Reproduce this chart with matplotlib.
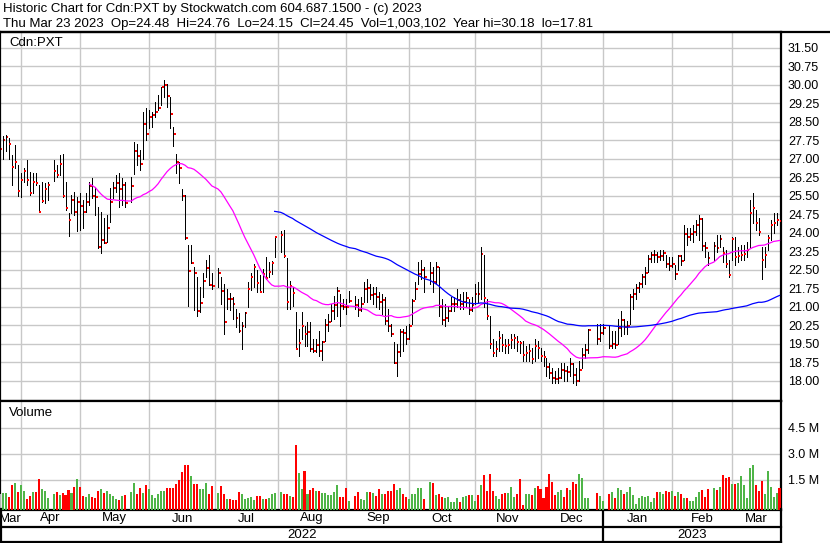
import numpy as np
import pandas as pd
import matplotlib
matplotlib.use('Agg')
import matplotlib.pyplot as plt
from matplotlib.transforms import blended_transform_factory

plt.rcParams['font.family'] = ['Liberation Sans', 'DejaVu Sans']

# Cdn:PXT daily bars, 2022-03-23 .. 2023-03-23 (one value per trading day)
holidays = ['2022-04-15', '2022-05-23', '2022-07-01', '2022-08-01', '2022-09-05',
            '2022-10-10', '2022-12-26', '2022-12-27', '2023-01-02', '2023-02-20']

close = [
    27.40, 27.75, 27.87, 27.59, 26.66, 26.84, 25.68, 26.13, 26.49, 26.13, 25.59, 26.04, 25.99, 24.85, 25.29, 25.77, 25.93,
    26.48, 26.33, 26.76, 25.48, 24.99, 24.51, 25.32, 24.85, 25.22, 25.07, 24.85, 25.22, 25.88, 25.48, 25.43, 23.40, 23.70,
    23.57, 24.17, 25.24, 25.79, 25.99, 25.75, 25.93, 25.18,
    25.88, 27.30, 27.09, 26.77, 28.39, 28.01, 28.68, 28.76, 28.88, 29.04, 29.88, 30.00, 29.53, 28.82, 28.01, 26.84, 26.61,
    25.47, 23.76, 22.43, 22.78, 22.34, 20.81, 21.16, 22.03, 22.58, 21.86, 21.82,
    22.34, 21.62, 20.38, 21.32, 21.30, 21.12, 20.55, 20.00, 20.22, 20.74, 21.73, 22.18, 22.61, 21.97, 21.57, 22.32, 22.16,
    22.41, 22.76, 23.83,
    23.91, 23.06, 21.20, 21.82, 21.55, 19.28, 19.52, 20.22, 19.88, 19.98, 19.28, 19.21, 19.45, 19.20, 19.57, 20.25, 20.38,
    20.83, 21.06, 21.64, 21.03, 21.00, 20.98, 21.24,
    21.06, 20.85, 21.10, 21.70, 21.75, 21.45, 21.50, 21.40, 21.20, 21.25, 20.40, 20.20, 19.90, 18.70, 19.15, 19.95, 19.93,
    19.70, 20.20, 21.22, 21.70, 22.33, 22.47, 22.18,
    22.36, 21.99, 22.60, 21.00, 20.47, 20.53, 20.80, 21.11, 21.12, 21.25, 21.09, 21.18, 21.34, 20.87, 21.05, 21.52, 21.49,
    23.14, 21.34, 20.60, 19.49, 19.11, 19.29, 19.72, 19.43, 19.42, 19.44, 19.63, 19.74, 19.56, 19.52, 19.03, 19.10, 19.20,
    18.87, 19.40, 19.30, 18.99, 18.97, 18.56, 18.32, 18.09, 18.08, 18.10, 18.43, 18.39, 18.36, 18.66, 18.22, 17.98, 18.43,
    19.03, 19.24, 20.05,
    19.68, 19.91, 20.14,
    19.40, 19.47, 19.44, 20.14, 20.45, 20.18, 20.22, 21.40, 21.50, 21.74, 21.91, 22.18, 22.37, 22.91, 23.09, 23.10, 23.01,
    23.05, 23.18, 22.74, 22.66, 22.72, 22.32, 23.04, 22.85, 23.93, 23.82, 23.94, 24.04, 24.31, 24.55, 23.45, 23.39, 22.96,
    23.46, 23.39, 23.73, 23.16, 22.72, 22.28, 23.73, 23.01, 23.05, 23.10, 23.12, 23.28, 24.80, 25.00, 24.39, 24.03, 22.90,
    23.10, 23.77, 24.31, 24.40, 24.49, 24.45,
]

high = [
    27.85, 27.93, 27.95, 27.82, 27.14, 27.55, 26.74, 26.40, 26.60, 26.94, 26.47, 26.40, 26.40, 25.93, 26.06, 26.00, 26.06,
    26.94, 26.74, 27.14, 27.17, 26.06, 24.78, 25.52, 25.66, 25.45, 25.59, 25.32, 25.59, 26.03, 26.20, 25.86, 25.05, 24.85,
    24.58, 24.71, 25.79, 26.06, 26.33, 26.40, 26.20, 26.06,
    26.26, 27.68, 27.60, 27.34, 28.89, 29.03, 28.96, 28.89, 29.30, 29.57, 29.90, 30.18, 30.04, 29.50, 28.28, 27.20, 26.86,
    25.78, 25.51, 23.51, 23.51, 22.60, 22.18, 21.80, 22.34, 22.88, 23.08, 22.34,
    22.58, 22.20, 21.93, 21.73, 21.53, 21.39, 20.92, 20.72, 20.38, 20.78, 22.00, 22.34, 22.74, 22.47, 22.27, 22.52, 22.99,
    22.79, 22.86, 23.87,
    24.07, 24.11, 22.95, 22.05, 21.78, 20.76, 20.09, 20.76, 20.22, 20.36, 20.36, 19.68, 19.68, 20.02, 19.61, 20.49, 20.70,
    21.10, 21.44, 21.78, 21.51, 21.30, 21.30, 21.64,
    21.44, 21.30, 21.40, 22.00, 22.10, 21.90, 21.80, 21.80, 21.60, 21.50, 21.40, 20.90, 20.30, 19.55, 19.50, 20.10, 20.10,
    20.20, 20.30, 21.30, 22.00, 22.80, 22.90, 22.60,
    22.80, 22.60, 22.80, 22.60, 21.30, 21.10, 21.00, 21.40, 21.40, 21.70, 21.50, 21.60, 21.60, 21.30, 21.40, 21.90, 22.00,
    23.40, 23.10, 21.30, 20.60, 19.70, 19.60, 20.00, 19.90, 19.70, 19.70, 19.90, 19.90, 19.80, 19.60, 19.60, 19.40, 19.50,
    19.30, 19.70, 19.60, 19.30, 19.20, 18.90, 18.70, 18.50, 18.40, 18.50, 18.70, 18.70, 18.60, 18.90, 18.70, 18.50, 18.80,
    19.30, 19.50, 20.10,
    20.30, 20.30, 20.30,
    20.20, 20.00, 20.00, 20.50, 20.80, 20.50, 20.40, 21.50, 21.70, 21.90, 22.00, 22.30, 22.60, 23.10, 23.20, 23.30, 23.20,
    23.30, 23.30, 23.10, 23.00, 23.00, 22.70, 23.10, 23.10, 24.30, 24.20, 24.20, 24.30, 24.50, 24.70, 24.60, 23.60, 23.20,
    23.60, 23.90, 23.90, 23.40, 23.30, 22.90, 23.80, 23.80, 23.40, 23.50, 23.50, 23.60, 25.30, 25.60, 24.90, 24.60, 23.40,
    23.40, 23.90, 24.50, 24.80, 24.80, 24.76,
]

low = [
    26.90, 26.98, 27.30, 27.00, 25.93, 26.60, 25.50, 25.45, 26.05, 25.93, 25.52, 25.59, 25.93, 24.85, 25.25, 25.18, 25.32,
    26.07, 26.27, 26.33, 25.45, 24.91, 23.84, 24.78, 24.72, 24.06, 24.10, 24.17, 24.85, 25.11, 25.39, 24.72, 23.36, 23.16,
    23.57, 23.63, 24.44, 25.39, 25.66, 25.05, 25.11, 25.05,
    25.24, 26.39, 26.73, 26.53, 27.00, 27.74, 28.22, 28.28, 28.69, 28.96, 29.16, 29.50, 29.10, 28.22, 27.50, 26.40, 25.99,
    25.31, 23.72, 21.01, 22.78, 20.85, 20.60, 20.78, 21.39, 22.20, 21.86, 21.70,
    21.80, 21.12, 19.90, 20.92, 20.85, 20.51, 20.18, 19.98, 19.26, 20.18, 20.99, 21.66, 21.80, 21.60, 21.57, 21.57, 22.12,
    22.18, 22.32, 22.99,
    23.20, 23.00, 20.90, 20.90, 21.03, 19.28, 19.01, 19.68, 19.41, 19.41, 19.21, 19.14, 19.14, 19.01, 18.84, 19.61, 20.02,
    20.43, 20.49, 20.63, 20.22, 20.90, 20.70, 21.17,
    20.90, 20.60, 20.80, 21.20, 21.20, 21.30, 21.10, 21.00, 20.90, 20.70, 20.30, 20.00, 19.80, 18.70, 18.20, 19.00, 19.20,
    19.50, 19.70, 20.30, 21.30, 21.90, 22.10, 21.60,
    21.90, 21.60, 21.90, 20.60, 20.30, 20.20, 20.40, 20.80, 20.80, 21.00, 20.90, 20.90, 21.00, 20.70, 20.80, 21.10, 21.20,
    21.30, 21.00, 20.50, 19.30, 19.00, 19.00, 19.20, 19.20, 19.10, 19.10, 19.30, 19.30, 19.20, 19.10, 18.80, 18.80, 18.80,
    18.70, 18.80, 18.90, 18.80, 18.60, 18.20, 18.10, 17.90, 17.90, 17.90, 18.10, 18.00, 18.00, 18.20, 17.90, 17.81, 18.00,
    18.50, 18.90, 19.10,
    19.50, 19.60, 19.90,
    19.30, 19.30, 19.30, 19.50, 19.80, 19.90, 19.90, 20.30, 20.90, 21.30, 21.60, 21.80, 21.90, 22.40, 22.80, 22.80, 22.80,
    22.90, 22.90, 22.60, 22.50, 22.60, 22.10, 22.50, 22.70, 22.90, 23.50, 23.70, 23.60, 23.90, 23.70, 23.30, 23.00, 22.70,
    22.90, 23.20, 23.40, 22.80, 22.60, 22.20, 22.90, 22.70, 22.80, 22.90, 22.90, 23.00, 23.40, 24.40, 24.10, 23.90, 22.10,
    22.60, 23.30, 23.70, 24.00, 24.30, 24.15,
]

# volume in millions of shares
volume = [
    0.70, 0.72, 0.72, 0.49, 1.21, 1.33, 0.78, 1.21, 0.86, 0.40, 0.57, 0.80, 0.80, 1.56, 0.96, 0.86, 0.45,
    0.69, 0.80, 0.61, 0.72, 0.61, 0.92, 0.72, 1.09, 1.56, 1.09, 0.55, 0.51, 0.69, 0.51, 0.45, 0.86, 0.96, 0.72, 0.86,
    0.69, 0.57, 0.41, 0.36, 0.57, 0.63,
    0.80, 1.33, 0.65, 1.05, 0.74, 1.21, 0.98, 0.63, 0.47, 0.65, 0.86, 0.86, 1.03, 1.00, 1.03, 1.23, 1.50, 1.92, 2.33,
    2.33, 1.73, 1.27, 1.27, 0.96, 0.98, 1.33, 0.69, 1.11,
    0.74, 1.15, 0.69, 0.41, 0.40, 0.36, 0.36, 0.80, 0.67, 0.40, 0.47, 0.51, 0.36, 0.57, 0.57, 0.38, 0.38, 0.45, 0.69, 0.74,
    0.80, 0.65, 0.69, 0.55, 0.51, 3.50, 1.91, 0.94, 1.98, 0.65, 0.92, 1.03, 0.86, 0.86, 0.74, 0.74, 0.63, 0.63, 0.82,
    1.21, 0.49, 0.51, 1.03, 0.30,
    0.57, 0.80, 0.40, 0.36, 0.80, 0.80, 0.71, 0.57, 0.98, 0.69, 0.69, 0.86, 0.86, 1.27, 0.92, 1.03, 0.67, 0.49, 0.38,
    0.69, 0.67, 1.03, 1.03, 0.40,
    1.38, 1.33, 0.63, 0.69, 0.51, 0.45, 0.51, 0.22, 0.22, 0.45, 0.22, 0.51, 0.57, 0.61, 0.63, 0.30, 0.63, 1.21, 1.79,
    0.86, 1.85, 0.86, 0.57, 0.40, 0.69, 0.74, 0.74, 1.09, 0.49, 0.69, 1.56, 0.05, 0.69, 0.69, 0.63, 1.03, 1.15, 0.98,
    0.45, 1.09, 1.85, 1.38, 0.63, 0.80, 0.92, 0.51, 1.03, 0.92, 1.38, 1.27, 1.85, 1.62, 0.45, 0.45,
    0.74, 0.57, 0.28,
    0.69, 0.80, 0.45, 1.03, 0.92, 0.69, 0.80, 1.09, 0.63, 0.10, 0.45, 0.57, 0.53, 0.57, 0.22, 0.45, 0.80, 0.80, 0.69,
    0.86, 0.80, 0.86, 0.55, 0.80, 0.69, 0.45, 0.45, 0.28, 0.28, 0.51, 0.80, 0.90, 0.49, 0.98,
    1.03, 0.92, 1.09, 1.79, 1.60, 1.67, 1.27, 1.27, 1.33, 1.71, 1.21, 0.45, 2.18, 2.37, 1.21, 0.86, 1.44, 0.69, 2.01,
    1.09, 0.51, 0.74, 1.00,
]

header1 = "Historic Chart for Cdn:PXT by Stockwatch.com 604.687.1500 - (c) 2023"
header2 = ("Thu Mar 23 2023  Op=24.48  Hi=24.76  Lo=24.15  Cl=24.45  Vol=1,003,102  "
           "Year hi=30.18  lo=17.81")
price_ticks = np.arange(18.0, 31.51, 0.75)
vol_ticks = [1.5, 3.0, 4.5]

# x axis = every weekday, holidays stay as empty slots
weekdays = pd.bdate_range('2022-03-23', '2023-03-23')
slot = pd.Series(np.arange(len(weekdays)), index=weekdays)
days = weekdays.difference(pd.DatetimeIndex(holidays))
x = slot[days].values.astype(float)

df = pd.DataFrame({'close': close, 'high': high, 'low': low, 'vol': volume}, index=days)
ma30 = df['close'].rolling(30).mean()
ma90 = df['close'].rolling(90).mean()
chg = df['close'].diff()
vcolors = np.where(chg > 0, '#4fb548', np.where(chg < 0, '#ff0000', '#b4b4b4'))

# month grid lines sit on the last weekday on/before the 1st
month_starts = pd.date_range('2022-04-01', '2023-03-01', freq='MS')
month_x = [slot[weekdays[weekdays <= m][-1]] for m in month_starts]

W, H = 830, 543
def px_rect(x0, y0, x1, y1):
    return [x0 / W, 1 - y1 / H, (x1 - x0) / W, (y1 - y0) / H]

fig = plt.figure(figsize=(W / 100, H / 100), dpi=100)
ax = fig.add_axes(px_rect(0, 32, 781, 401))
axv = fig.add_axes(px_rect(0, 401, 781, 509.5), sharex=ax)

xlim = (0.07, 261.5)
grid_c = '#c8c8c8'

# price panel
ax.set_xlim(*xlim)
ax.set_ylim(17.17, 32.13)
ax.set_xticks(month_x)
ax.set_yticks(price_ticks)
ax.set_yticklabels(['%.2f' % v for v in price_ticks])
ax.yaxis.tick_right()
ax.tick_params(axis='both', length=0, labelsize=9, pad=5)
ax.tick_params(axis='x', labelbottom=False)
ax.grid(True, color=grid_c, lw=1)
ax.set_axisbelow(True)

ax.vlines(x, df['low'], df['high'], color='black', lw=0.72, antialiased=False, zorder=3)
ax.hlines(df['close'], x + 0.25, x + 0.9, color='#ff0000', lw=1.44, antialiased=False, zorder=4)
ax.plot(x, ma30, color='#ff00ff', lw=0.9, zorder=5)
ax.plot(x, ma90, color='#0000ff', lw=0.9, zorder=5)
fig.text(9 / W, 1 - 43 / H, 'Cdn:PXT', fontsize=9.5, va='center', ha='left')

# volume panel
vbottom = -0.215
axv.set_ylim(vbottom, 6.03)
axv.bar(x, df['vol'] - vbottom, bottom=vbottom, width=0.68, color=vcolors, zorder=3)
axv.set_yticks(vol_ticks)
axv.set_yticklabels(['%.1f M' % v for v in vol_ticks])
axv.yaxis.tick_right()
axv.tick_params(axis='both', length=0, labelsize=9, pad=5)
axv.tick_params(axis='x', labelbottom=False)
axv.grid(True, color=grid_c, lw=1)
axv.set_axisbelow(True)
fig.text(9 / W, 1 - 413 / H, 'Volume', fontsize=9.5, va='center', ha='left')

for a in (ax, axv):
    for s in a.spines.values():
        s.set_linewidth(1.6)
        s.set_color('black')

# month and year rows
tr = blended_transform_factory(axv.transData, fig.transFigure)
edges = [xlim[0]] + month_x + [xlim[1]]
names = ['Mar'] + [m.strftime('%b') for m in month_starts]
for i, name in enumerate(names):
    axv.text((edges[i] + edges[i + 1]) / 2, 1 - 518.5 / H, name, transform=tr,
             ha='center', va='center', fontsize=9.5, clip_on=False)
jan_x = month_x[month_starts.get_loc(pd.Timestamp('2023-01-01'))]
axv.text((xlim[0] + jan_x) / 2, 1 - 534.5 / H, '2022', transform=tr, ha='center', va='center', fontsize=9.5)
axv.text((jan_x + xlim[1]) / 2, 1 - 534.5 / H, '2023', transform=tr, ha='center', va='center', fontsize=9.5)
axv.plot([jan_x, jan_x], [1 - 509.5 / H, 1 - 541 / H], transform=tr, color='black', lw=1.6, clip_on=False)

figline = dict(color='black', lw=1.6, transform=fig.transFigure, clip_on=False)
fig.add_artist(plt.Line2D([0, 781 / W], [1 - 526.8 / H] * 2, **figline))
fig.add_artist(plt.Line2D([0, 781 / W], [1 - 541.5 / H] * 2, **figline))
fig.add_artist(plt.Line2D([0.8 / W] * 2, [1 - 509 / H, 1 - 542 / H], **figline))
fig.add_artist(plt.Line2D([781 / W] * 2, [1 - 509 / H, 1 - 542 / H], **figline))
fig.add_artist(plt.Line2D([0, 1], [1 - 32 / H] * 2, **figline))

# header
fig.text(3 / W, 1 - 9 / H, header1, fontsize=9.5, va='center', ha='left')
fig.text(3 / W, 1 - 24 / H, header2, fontsize=9.5, va='center', ha='left')

fig.savefig('out.png', dpi=100, facecolor='white')
